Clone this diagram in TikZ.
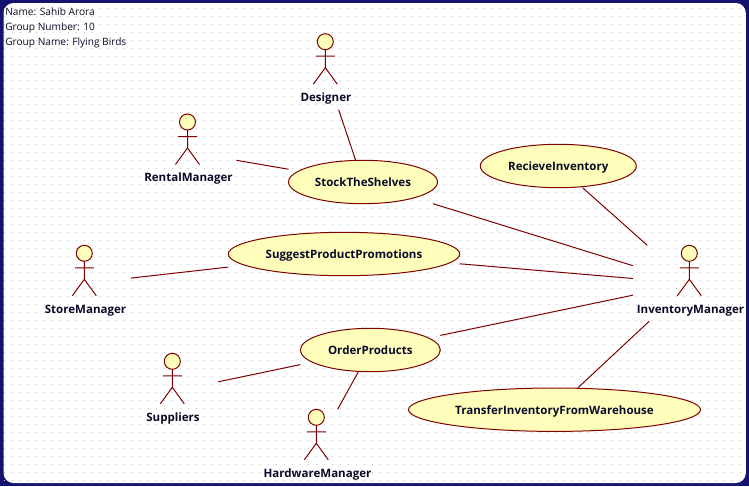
\documentclass[tikz,border=0pt]{standalone}
\usepackage{fontspec}
\setmainfont{Open Sans}
\usetikzlibrary{shapes.geometric}
\definecolor{maroonline}{HTML}{800000}
\definecolor{usefill}{HTML}{FFFFBB}
\definecolor{frameblue}{HTML}{14146E}
\definecolor{griddot}{HTML}{C4C4C4}
\definecolor{inktext}{HTML}{0A0A28}
\def\pxu{0.75pt}
\tikzset{
  x=0.75pt,y=-0.75pt,
  umlline/.style={draw=maroonline,line width=0.75pt},
  usecase/.style={ellipse,draw=maroonline,fill=usefill,line width=0.75pt,inner sep=0pt,outer sep=0pt,
    font=\fontsize{8.65pt}{10pt}\bfseries,text=inktext,text height=6.5pt,text depth=0pt},
  hitbox/.style={rectangle,inner sep=0pt,outer sep=0pt},
  actorname/.style={font=\fontsize{8.65pt}{10pt}\bfseries,text=inktext,inner sep=0pt,text height=6.5pt,text depth=0pt},
  noteline/.style={font=\fontsize{7.6pt}{10pt}\selectfont,text=inktext,inner sep=0pt,anchor=west,text height=6.5pt,text depth=0pt},
}
% name, head x, head y, half width of box, label text, label x
\newcommand{\umlactor}[6]{%
  \node[hitbox,minimum width={2*#4*\pxu},minimum height={76*\pxu}] (#1) at (#2+0.5,#3+30) {};
  \draw[umlline,fill=usefill] (#2,#3) circle[radius=8];
  \draw[umlline] (#2,#3+8) -- (#2,#3+26)
    (#2-9.5,#3+14.5) -- (#2+9.5,#3+14.5)
    (#2-12,#3+42.5) -- (#2,#3+26) -- (#2+12,#3+42.5);
  \node[actorname] (#1name) at (#6,#3+55.5) {#5};
}
% name, centre x, centre y, half width, text
\newcommand{\umlcase}[5]{%
  \node[usecase,minimum width={2*#4*\pxu},minimum height={43.4*\pxu}] (#1shape) at (#2,#3) {#5};
  \node[hitbox,minimum width={2*#4*\pxu},minimum height={43.4*\pxu}] (#1) at (#2,#3) {};
}
\begin{document}
\begin{tikzpicture}
\useasboundingbox (0,0) rectangle (749,486);
\fill[frameblue] (0,0) rectangle (749,486);
\fill[white,rounded corners=7.5pt] (3.5,3) rectangle (745.8,483);
\foreach \gx in {0,...,92}{
  \foreach \gy in {1,...,60}{
    \fill[griddot] ({\gx*8+4},{\gy*8}) rectangle ++(1,1);
  }
}
\node[noteline] (note1) at (5,11) {Name: Sahib Arora};
\node[noteline] (note2) at (5,26) {Group Number: 10};
\node[noteline] (note3) at (5,41) {Group Name: Flying Birds};

\umlcase{stock}{363}{182}{74.5}{StockTheShelves}
\umlcase{recieve}{558.3}{166}{78}{RecieveInventory}
\umlcase{suggest}{344}{254}{115.7}{SuggestProductPromotions}
\umlcase{order}{370.3}{350}{70}{OrderProducts}
\umlcase{transfer}{554.5}{409.7}{146}{TransferInventoryFromWarehouse}

\umlactor{designer}{325.3}{41.7}{46}{Designer}{326}
\umlactor{rental}{187.5}{122}{48.5}{RentalManager}{188.5}
\umlactor{store}{84.3}{253.3}{46}{StoreManager}{85.5}
\umlactor{suppliers}{172.3}{361.3}{45.5}{Suppliers}{173}
\umlactor{hardware}{316.3}{417.3}{57}{HardwareManager}{317.5}
\umlactor{inventory}{689.3}{253.3}{57}{InventoryManager}{690.5}

\draw[umlline] (designer) -- (stock);
\draw[umlline] (rental) -- (stock);
\draw[umlline] (stock) -- (inventory);
\draw[umlline] (suggest) -- (inventory);
\draw[umlline] (recieve) -- (inventory);
\draw[umlline] (order) -- (inventory);
\draw[umlline] (transfer) -- (inventory);
\draw[umlline] (store) -- (suggest);
\draw[umlline] (suppliers) -- (order);
\draw[umlline] (hardware) -- (order);
\end{tikzpicture}
\end{document}
